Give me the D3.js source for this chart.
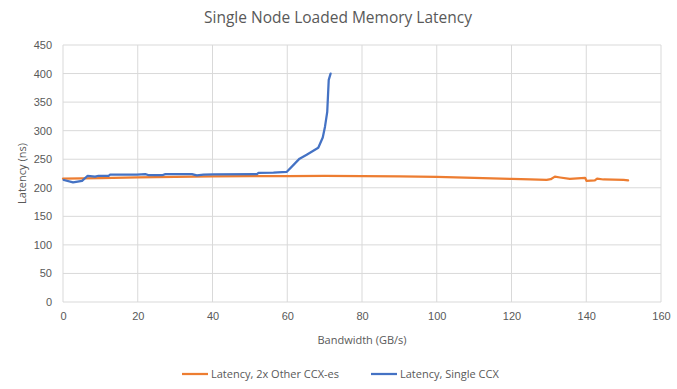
<!DOCTYPE html>
<html>
<head>
<meta charset="utf-8">
<script src="https://cdn.jsdelivr.net/npm/d3@7"></script>
<style>
  body { margin: 0; background: #fff; }
  svg { display: block; font-family: "Open Sans", "Liberation Sans", sans-serif; }
  .tick text { fill: #595959; font-size: 11px; }
</style>
</head>
<body>
<svg width="677" height="389"></svg>
<script>
// values
const otherBw  = [0, 10, 20, 30, 40, 50, 60, 70, 80, 90, 100, 110, 120, 125, 129.4, 130.5, 131.6, 133, 135.6, 139.7, 140.1, 142.3, 142.9, 144.6, 150, 151.2];
const otherLat = [216, 217, 218, 219, 219.8, 220.3, 220.6, 221, 220.6, 220, 218.9, 217.2, 215.4, 214.5, 213.7, 215, 219.5, 218, 215.4, 217.5, 212, 213, 216, 214.5, 213.8, 213];

const singleBw  = [0.2, 2.7, 5.1, 6.6, 8.6, 9.5, 12.2, 12.6, 19.8, 22, 23, 26.5, 27.4, 34.5, 35.8, 37.6, 40.3, 51.9, 52.3, 56.3, 59.9, 63.3, 65.2, 68.3, 69.5, 70.1, 70.7, 71.1, 71.6];
const singleLat = [213.6, 209.6, 212, 221, 219.5, 221, 221, 223, 223, 224, 222, 222, 224, 224, 221.7, 223, 223.6, 224, 226, 226.7, 228, 251, 258, 270, 288, 307, 333, 389, 400];

const xTicks = [0, 20, 40, 60, 80, 100, 120, 140, 160];
const yTicks = [0, 50, 100, 150, 200, 250, 300, 350, 400, 450];

const seriesNames = ["Latency, 2x Other CCX-es", "Latency, Single CCX"];
const colors = ["#ED7D31", "#4472C4"];

const svg = d3.select("svg");
const margin = { left: 63, right: 16, top: 45, bottom: 87 };
const W = 677, H = 389;

const x = d3.scaleLinear().domain([0, 160]).range([margin.left, W - margin.right]);
const y = d3.scaleLinear().domain([0, 450]).range([H - margin.bottom, margin.top]);

// title
svg.append("text")
  .attr("x", 338).attr("y", 23)
  .attr("text-anchor", "middle")
  .attr("fill", "#595959")
  .attr("font-size", 15.5)
  .text("Single Node Loaded Memory Latency");

// grid
const grid = svg.append("g");
grid.selectAll(".gx").data(xTicks).join("line")
  .attr("x1", d => x(d)).attr("x2", d => x(d))
  .attr("y1", y(0)).attr("y2", y(450))
  .attr("stroke", "#d9d9d9").attr("stroke-width", 1);
grid.selectAll(".gy").data(yTicks).join("line")
  .attr("x1", x(0)).attr("x2", x(160))
  .attr("y1", d => y(d)).attr("y2", d => y(d))
  .attr("stroke", "#d9d9d9").attr("stroke-width", 1);

// axes
const gx = svg.append("g")
  .attr("transform", `translate(0,${y(0)})`)
  .call(d3.axisBottom(x).tickValues(xTicks).tickSize(0).tickPadding(10));
gx.select(".domain").remove();

const gy = svg.append("g")
  .attr("transform", `translate(${x(0)},0)`)
  .call(d3.axisLeft(y).tickValues(yTicks).tickSize(0).tickPadding(11));
gy.select(".domain").remove();

svg.append("text")
  .attr("x", (x(0) + x(160)) / 2).attr("y", 344)
  .attr("text-anchor", "middle")
  .attr("fill", "#595959").attr("font-size", 11)
  .text("Bandwidth (GB/s)");

svg.append("text")
  .attr("transform", `translate(26,${(y(0) + y(450)) / 2}) rotate(-90)`)
  .attr("text-anchor", "middle")
  .attr("fill", "#595959").attr("font-size", 11)
  .text("Latency (ns)");

// lines
const line = d3.line().x(d => x(d[0])).y(d => y(d[1]));
const series = [d3.zip(otherBw, otherLat), d3.zip(singleBw, singleLat)];

svg.append("g").selectAll("path").data(series).join("path")
  .attr("fill", "none")
  .attr("stroke", (d, i) => colors[i])
  .attr("stroke-width", 2.25)
  .attr("stroke-linejoin", "round")
  .attr("stroke-linecap", "round")
  .attr("d", line);

// legend
const legendX = [182, 371];
const lg = svg.append("g").selectAll("g").data(seriesNames).join("g")
  .attr("transform", (d, i) => `translate(${legendX[i]},374)`);
lg.append("line")
  .attr("x1", 0).attr("x2", 26)
  .attr("stroke", (d, i) => colors[i]).attr("stroke-width", 2.25);
lg.append("text")
  .attr("x", 29).attr("dy", "0.35em")
  .attr("fill", "#595959").attr("font-size", 11)
  .text(d => d);
</script>
</body>
</html>
